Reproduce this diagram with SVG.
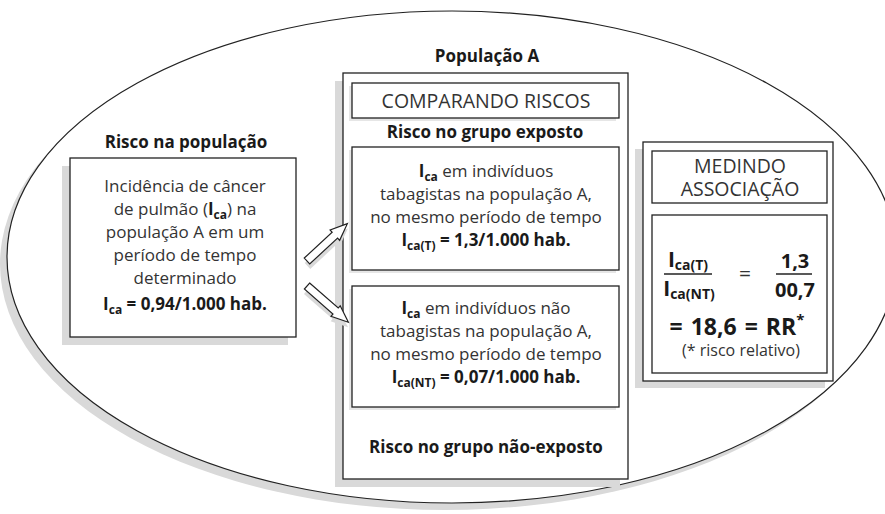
<svg xmlns="http://www.w3.org/2000/svg" width="885" height="514" viewBox="0 0 885 514">
<style>
.t{font-family:"Open Sans","Noto Sans","Liberation Sans",sans-serif;fill:#2a2a2a;text-anchor:middle}
.r{font-size:17px;fill:#333}
.b{font-size:17px;font-weight:bold;fill:#1a1a1a}
.cap{font-size:19.5px;fill:#333}
.box{fill:#fff;stroke:#222;stroke-width:1.3}
.sh{fill:#d9d9d9}
.shl{fill:#e6e6e6}
.sub{font-size:12px;font-weight:bold}
.arrow{fill:#fff;stroke:#222;stroke-width:1.2;stroke-linejoin:miter}
</style>
<rect width="885" height="514" fill="#fff"/>
<g id="populacao-ellipse">
<ellipse cx="445" cy="264" rx="445" ry="246" class="sh"/>
<ellipse cx="452" cy="257" rx="445" ry="246" fill="#fff" stroke="#222" stroke-width="1.2"/>
</g>
<g id="risco-populacao">
<text class="t b" x="186" y="148">Risco na população</text>
<rect x="62" y="166" width="226" height="179" class="sh"/>
<rect x="70" y="158" width="226" height="179" class="box"/>
<text class="t r" x="185" y="192">Incidência de câncer</text>
<text class="t r" x="185" y="215">de pulmão (<tspan font-weight="bold" fill="#1a1a1a">I</tspan><tspan class="sub" dy="4" fill="#1a1a1a">ca</tspan><tspan dy="-4">) na</tspan></text>
<text class="t r" x="185" y="238">população A em um</text>
<text class="t r" x="185" y="261">período de tempo</text>
<text class="t r" x="185" y="284">determinado</text>
<text class="t b" x="185" y="310">I<tspan class="sub" dy="4">ca</tspan><tspan dy="-4"> = 0,94/1.000 hab.</tspan></text>
</g>
<g id="populacao-a">
<text class="t b" x="487" y="62">População A</text>
<rect x="335" y="81" width="285" height="406" class="sh"/>
<rect x="343" y="73" width="285" height="406" class="box"/>
</g>
<g id="comparando-riscos">
<rect x="349" y="86" width="267" height="35" class="shl"/>
<rect x="352" y="83" width="267" height="35" class="box"/>
<text class="t cap" x="486" y="108">COMPARANDO RISCOS</text>
</g>
<g id="grupo-exposto">
<text class="t b" x="485" y="138">Risco no grupo exposto</text>
<rect x="349" y="150" width="267" height="123" class="shl"/>
<rect x="352" y="147" width="267" height="123" class="box"/>
<text class="t r" x="486" y="177"><tspan font-weight="bold" fill="#1a1a1a">I</tspan><tspan class="sub" dy="4" fill="#1a1a1a">ca</tspan><tspan dy="-4"> em indivíduos</tspan></text>
<text class="t r" x="486" y="200">tabagistas na população A,</text>
<text class="t r" x="486" y="223">no mesmo período de tempo</text>
<text class="t b" x="486" y="246">I<tspan class="sub" dy="4">ca(T)</tspan><tspan dy="-4"> = 1,3/1.000 hab.</tspan></text>
</g>
<g id="grupo-nao-exposto">
<rect x="349" y="289" width="267" height="121" class="shl"/>
<rect x="352" y="286" width="267" height="121" class="box"/>
<text class="t r" x="486" y="314"><tspan font-weight="bold" fill="#1a1a1a">I</tspan><tspan class="sub" dy="4" fill="#1a1a1a">ca</tspan><tspan dy="-4"> em indivíduos não</tspan></text>
<text class="t r" x="486" y="337">tabagistas na população A,</text>
<text class="t r" x="486" y="360">no mesmo período de tempo</text>
<text class="t b" x="486" y="383">I<tspan class="sub" dy="4">ca(NT)</tspan><tspan dy="-4"> = 0,07/1.000 hab.</tspan></text>
<text class="t b" x="486" y="453">Risco no grupo não-exposto</text>
</g>
<g id="medindo-associacao">
<rect x="635" y="149" width="190" height="239" class="sh"/>
<rect x="643" y="142" width="190" height="239" class="box"/>
<rect x="652" y="151" width="175" height="52" class="box"/>
<text class="t cap" x="740" y="173">MEDINDO</text>
<text class="t cap" x="740" y="196">ASSOCIAÇÃO</text>
<rect x="652" y="215" width="175" height="158" class="box"/>
<text class="t b" x="688" y="267" style="font-size:21px">I<tspan style="font-size:14px" dy="3">ca(T)</tspan></text>
<line x1="664" y1="274" x2="712" y2="274" stroke="#222" stroke-width="1.3"/>
<text class="t b" x="689" y="296" style="font-size:21px">I<tspan style="font-size:14px" dy="3">ca(NT)</tspan></text>
<text class="t r" x="745" y="281" style="font-size:21px">=</text>
<text class="t b" x="795" y="268" style="font-size:20px">1,3</text>
<line x1="776" y1="274" x2="812" y2="274" stroke="#222" stroke-width="1.3"/>
<text class="t b" x="795" y="297" style="font-size:20px">00,7</text>
<text class="t b" x="737" y="335" style="font-size:23px;word-spacing:2px">= 18,6 = RR<tspan style="font-size:15px" dy="-10">*</tspan></text>
<text class="t r" x="741" y="356" style="font-size:16px">(* risco relativo)</text>
</g>
<g id="connectors">
<g transform="translate(307,261) rotate(-42.8)">
<polygon points="0,-4 38,-4 38,-7 55,0 38,7 38,4 0,4" class="sh" transform="translate(-3,4)"/>
<polygon points="0,-4 38,-4 38,-7 55,0 38,7 38,4 0,4" class="arrow"/>
</g>
<g transform="translate(307,286) rotate(41.2)">
<polygon points="0,-4 38,-4 38,-7 55,0 38,7 38,4 0,4" class="sh" transform="translate(3,4)"/>
<polygon points="0,-4 38,-4 38,-7 55,0 38,7 38,4 0,4" class="arrow"/>
</g>
</g>
</svg>
